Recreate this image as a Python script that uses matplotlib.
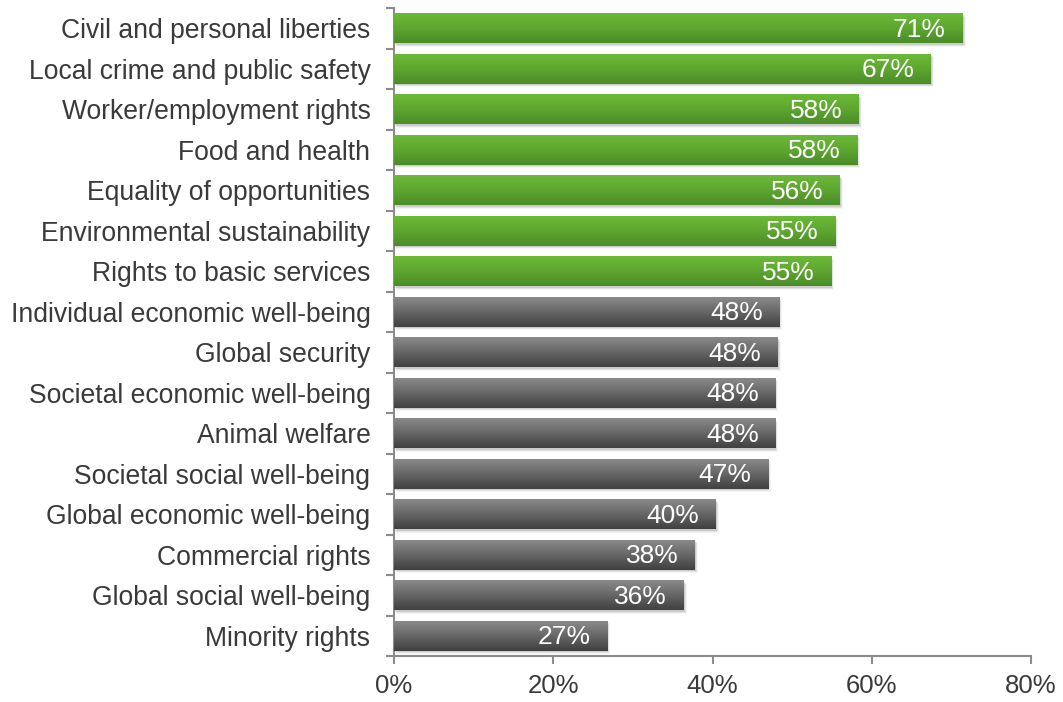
import matplotlib.pyplot as plt
import numpy as np
from matplotlib.colors import LinearSegmentedColormap
from matplotlib.patches import Rectangle

CATEGORIES = [
    "Civil and personal liberties",
    "Local crime and public safety",
    "Worker/employment rights",
    "Food and health",
    "Equality of opportunities",
    "Environmental sustainability",
    "Rights to basic services",
    "Individual economic well-being",
    "Global security",
    "Societal economic well-being",
    "Animal welfare",
    "Societal social well-being",
    "Global economic well-being",
    "Commercial rights",
    "Global social well-being",
    "Minority rights",
]
VALUES = [71.4, 67.4, 58.4, 58.2, 56.0, 55.4, 54.9, 48.4,
          48.2, 47.9, 47.9, 47.0, 40.4, 37.8, 36.4, 26.8]
HIGHLIGHT = [True] * 7 + [False] * 9
X_TICKS = [0, 20, 40, 60, 80]

# light on top, darker towards the bottom of each bar
GREEN = LinearSegmentedColormap.from_list("green", ["#6cba38", "#5ea630", "#4b8c28"])
GRAY = LinearSegmentedColormap.from_list("gray", ["#8a8a8a", "#666666", "#404040"])


def main():
    plt.rcParams["font.family"] = ["Liberation Sans", "DejaVu Sans"]

    fig = plt.figure(figsize=(10.63, 7.02), dpi=100)
    ax = fig.add_axes([0.3707, 0.0655, 0.5992, 0.9231])

    y = np.arange(len(CATEGORIES))
    bars = ax.barh(y, VALUES, height=0.74, color="none", edgecolor="none", zorder=3)

    grad = np.linspace(0, 1, 64).reshape(-1, 1)
    for bar, hl, val in zip(bars, HIGHLIGHT, VALUES):
        x0, y0 = bar.get_x(), bar.get_y()
        w, h = bar.get_width(), bar.get_height()

        # soft drop shadow
        for k, a in enumerate([0.10, 0.07, 0.04]):
            off = 0.25 + 0.25 * k
            sh = Rectangle((x0 + off * 0.5, y0 + 0.04 + 0.025 * k), w, h,
                           facecolor="#000000", alpha=a, edgecolor="none", zorder=2)
            ax.add_patch(sh)

        img = ax.imshow(grad, cmap=GREEN if hl else GRAY, aspect="auto",
                        extent=(x0, x0 + w, y0 + h, y0), origin="upper",
                        zorder=3, interpolation="bicubic")
        img.set_clip_path(bar)

        ax.annotate(f"{val:.0f}%", xy=(val, bar.get_y() + h / 2),
                    xytext=(-12, -1), textcoords="offset points",
                    ha="right", va="center", color="white", fontsize=19, zorder=4)

    ax.set_xlim(0, 80)
    ax.set_ylim(len(CATEGORIES) - 0.5, -0.5)

    ax.set_xticks(X_TICKS)
    ax.set_xticklabels([f"{t}%" for t in X_TICKS])
    ax.set_yticks(y)
    ax.set_yticklabels(CATEGORIES)
    ax.set_yticks(np.arange(len(CATEGORIES) + 1) - 0.5, minor=True)

    for side in ["top", "right"]:
        ax.spines[side].set_visible(False)
    for side in ["left", "bottom"]:
        ax.spines[side].set_color("#8c8c8c")
        ax.spines[side].set_linewidth(1.5)

    ax.tick_params(axis="y", which="major", length=0, pad=17, labelsize=19.1, labelcolor="#3a3a3a")
    ax.tick_params(axis="y", which="minor", length=6, width=1.5, color="#8c8c8c")
    ax.tick_params(axis="x", length=6, width=1.5, color="#8c8c8c", pad=7,
                   labelsize=18.5, labelcolor="#3a3a3a")

    fig.savefig("out.png", dpi=100)
    plt.close(fig)


if __name__ == "__main__":
    main()
